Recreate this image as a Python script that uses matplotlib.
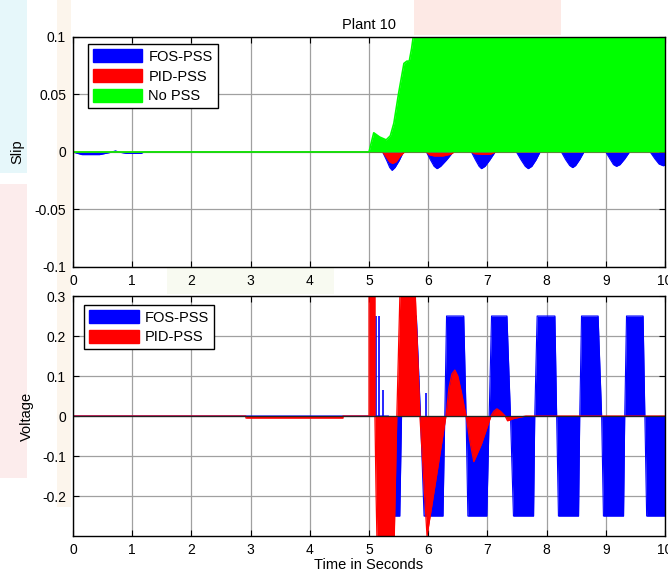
import matplotlib
matplotlib.use("Agg")
import matplotlib.pyplot as plt
from matplotlib.patches import Patch, Rectangle

plt.rcParams['font.family'] = ['Liberation Sans', 'DejaVu Sans']

# ---- Slip (top panel): envelope breakpoints ----
fos_slip_t = [0, 0.06, 0.15, 0.45, 0.62, 0.66, 0.72, 0.76, 0.90, 0.95, 1.15, 1.20,
              5.23, 5.30, 5.35, 5.39, 5.44, 5.51, 5.58,
              5.97, 6.04, 6.10, 6.15, 6.21, 6.31, 6.42,
              6.73, 6.80, 6.86, 6.90, 6.96, 7.04, 7.13,
              7.49, 7.57, 7.64, 7.69, 7.75, 7.82, 7.89,
              8.25, 8.32, 8.39, 8.44, 8.49, 8.56, 8.63,
              9.00, 9.07, 9.13, 9.18, 9.24, 9.32, 9.40,
              9.75, 9.83, 9.90, 9.97, 10.0]
fos_slip_v = [0, -0.001, -0.0023, -0.0023, -0.0005, 0, 0.001, 0, -0.0012, -0.0012, -0.0012, 0,
              0, -0.0075, -0.0135, -0.016, -0.0135, -0.0075, 0,
              0, -0.007, -0.0125, -0.0145, -0.0125, -0.007, 0,
              0, -0.007, -0.0125, -0.0145, -0.0125, -0.007, 0,
              0, -0.007, -0.0125, -0.0145, -0.0125, -0.007, 0,
              0, -0.0065, -0.0118, -0.0136, -0.0118, -0.0065, 0,
              0, -0.006, -0.011, -0.0125, -0.011, -0.006, 0,
              0, -0.006, -0.0105, -0.012, -0.0115]

pid_slip_t = [0, 5.23, 5.30, 5.35, 5.40, 5.46, 5.52, 5.60,
              5.97, 6.02, 6.10, 6.25, 6.38, 6.44,
              6.73, 6.78, 6.90, 7.05, 7.14, 10.0]
pid_slip_v = [0, 0, -0.005, -0.0088, -0.010, -0.0085, -0.004, 0,
              0, -0.0025, -0.0035, -0.0035, -0.002, 0,
              0, -0.0015, -0.002, -0.002, 0, 0]

nopss_slip_t = [0, 5.0, 5.08, 5.18, 5.29, 5.36, 5.42, 5.50, 5.59, 5.64, 5.68, 5.72, 5.76, 10.0]
nopss_slip_v = [0, 0, 0.0167, 0.013, 0.0105, 0.014, 0.025, 0.051, 0.077, 0.079, 0.079, 0.09, 0.105, 0.105]

# ---- Voltage (bottom panel) ----
fos_volt_t = [0, 5.33, 5.36, 5.52, 5.55, 5.60, 5.80, 5.87, 5.93, 6.25, 6.28,
              6.31, 6.60, 6.64, 6.67, 6.99, 7.03, 7.07, 7.33, 7.39, 7.44, 7.78, 7.80,
              7.84, 8.14, 8.17, 8.20, 8.54, 8.56, 8.59, 8.87, 8.93, 8.96, 9.30, 9.32,
              9.35, 9.63, 9.66, 9.69, 10.0]
fos_volt_v = [0, 0, -0.25, -0.25, 0, 0.25, 0.25, 0, -0.25, -0.25, 0,
              0.25, 0.25, 0, -0.25, -0.25, 0, 0.25, 0.25, 0, -0.25, -0.25, 0,
              0.25, 0.25, 0, -0.25, -0.25, 0, 0.25, 0.25, 0, -0.25, -0.25, 0,
              0.25, 0.25, 0, -0.25, -0.25]
fos_spike_t = [5.11, 5.17, 5.23, 5.97, 9.52]
fos_spike_v = [0.25, 0.25, 0.065, 0.057, 0.032]

pid_volt_t = [0, 2.92, 2.92, 4.56, 4.56, 5.0, 5.0, 5.10, 5.10, 5.12, 5.14, 5.42, 5.47,
              5.53, 5.77, 5.86, 5.98, 6.30, 6.35, 6.40, 6.45, 6.50, 6.56, 6.64,
              6.70, 6.77, 6.90, 7.06, 7.11, 7.16, 7.22, 7.30, 7.34, 7.45, 7.65, 10.0]
pid_volt_v = [0, 0, -0.005, -0.005, 0, 0, 0.35, 0.35, 0, -0.2, -0.35, -0.35, 0,
              0.35, 0.35, 0, -0.30, 0, 0.07, 0.105, 0.115, 0.10, 0.06, 0,
              -0.06, -0.114, -0.07, 0, 0.012, 0.018, 0.012, 0, -0.012, -0.006, 0, 0]

xticks = [0, 1, 2, 3, 4, 5, 6, 7, 8, 9, 10]
slip_ticks = [-0.1, -0.05, 0, 0.05, 0.1]
slip_labels = ['-0.1', '-0.05', '0', '0.05', '0.1']
volt_ticks = [-0.2, -0.1, 0, 0.1, 0.2, 0.3]
volt_labels = ['-0.2', '-0.1', '0', '0.1', '0.2', '0.3']

blue, red, green = '#0000ff', '#ff0000', '#00ff00'

fig = plt.figure(figsize=(6.68, 5.76), dpi=100)

# faint watermark-like background patches (behind everything)
for (x0, y0, w, h, c) in [(0, 0.70, 0.04, 0.30, '#e6f7fa'),
                          (0, 0.17, 0.04, 0.51, '#fcecec'),
                          (0.085, 0.12, 0.022, 0.88, '#fcf5ec'),
                          (0.62, 0.94, 0.22, 0.06, '#fde9e5'),
                          (0.25, 0.49, 0.25, 0.045, '#f8faf1')]:
    fig.patches.append(Rectangle((x0, y0), w, h, transform=fig.transFigure,
                                 color=c, zorder=-10, lw=0))

ax1 = fig.add_axes([0.1093, 0.5365, 0.8862, 0.3993])
ax2 = fig.add_axes([0.1093, 0.0694, 0.8862, 0.4167])

# top
ax1.fill_between(fos_slip_t, fos_slip_v, 0, color=blue, lw=0, zorder=2)
ax1.plot(fos_slip_t, fos_slip_v, color=blue, lw=0.8, zorder=2)
ax1.fill_between(pid_slip_t, pid_slip_v, 0, color=red, lw=0, zorder=3)
ax1.plot(pid_slip_t, pid_slip_v, color=red, lw=0.8, zorder=3)
ax1.fill_between(nopss_slip_t, nopss_slip_v, 0, color=green, lw=0, zorder=4)
ax1.plot(nopss_slip_t, nopss_slip_v, color=green, lw=1.2, zorder=4)
ax1.set_xlim(0, 10)
ax1.set_ylim(-0.1, 0.1)
ax1.set_xticks(xticks)
ax1.set_yticks(slip_ticks)
ax1.set_yticklabels(slip_labels)
ax1.set_ylabel('Slip', fontsize=10.5)
ax1.yaxis.set_label_coords(-0.083, 0.5)
ax1.set_title('Plant 10', fontsize=10.5, pad=6)
ax1.legend(handles=[Patch(color=blue, label='FOS-PSS'),
                    Patch(color=red, label='PID-PSS'),
                    Patch(color=green, label='No PSS')],
           loc='upper left', bbox_to_anchor=(0.025, 0.968), fontsize=10.5,
           handlelength=3.4, handleheight=1.0, labelspacing=0.35,
           handletextpad=0.4, borderpad=0.35, borderaxespad=0,
           fancybox=False, framealpha=1, edgecolor='black')

# bottom
ax2.fill_between(fos_volt_t, fos_volt_v, 0, color=blue, lw=0, zorder=2)
ax2.plot(fos_volt_t, fos_volt_v, color=blue, lw=0.8, zorder=2)
ax2.vlines(fos_spike_t, 0, fos_spike_v, color=blue, lw=1.2, zorder=2)
ax2.fill_between(pid_volt_t, pid_volt_v, 0, color=red, lw=0, zorder=3)
ax2.plot(pid_volt_t, pid_volt_v, color=red, lw=0.9, zorder=3)
ax2.axhline(0, color='#222222', lw=0.9, zorder=4)
ax2.set_xlim(0, 10)
ax2.set_ylim(-0.3, 0.3)
ax2.set_xticks(xticks)
ax2.set_yticks(volt_ticks)
ax2.set_yticklabels(volt_labels)
ax2.set_ylabel('Voltage', fontsize=10.5)
ax2.yaxis.set_label_coords(-0.066, 0.5)
ax2.set_xlabel('Time in Seconds', fontsize=10.5, labelpad=1)
ax2.legend(handles=[Patch(color=blue, label='FOS-PSS'),
                    Patch(color=red, label='PID-PSS')],
           loc='upper left', bbox_to_anchor=(0.019, 0.962), fontsize=10.5,
           handlelength=3.4, handleheight=1.0, labelspacing=0.35,
           handletextpad=0.4, borderpad=0.35, borderaxespad=0,
           fancybox=False, framealpha=1, edgecolor='black')

for ax in (ax1, ax2):
    ax.set_facecolor('white')
    ax.grid(True, color='#a0a0a0', lw=0.9, zorder=1)
    ax.set_axisbelow(True)
    ax.tick_params(direction='in', top=True, right=True, length=4, width=0.8,
                   labelsize=10, pad=5)
    for s in ax.spines.values():
        s.set_color('black')
        s.set_linewidth(1.0)
        s.set_zorder(6)

fig.savefig('out.png', dpi=100)
